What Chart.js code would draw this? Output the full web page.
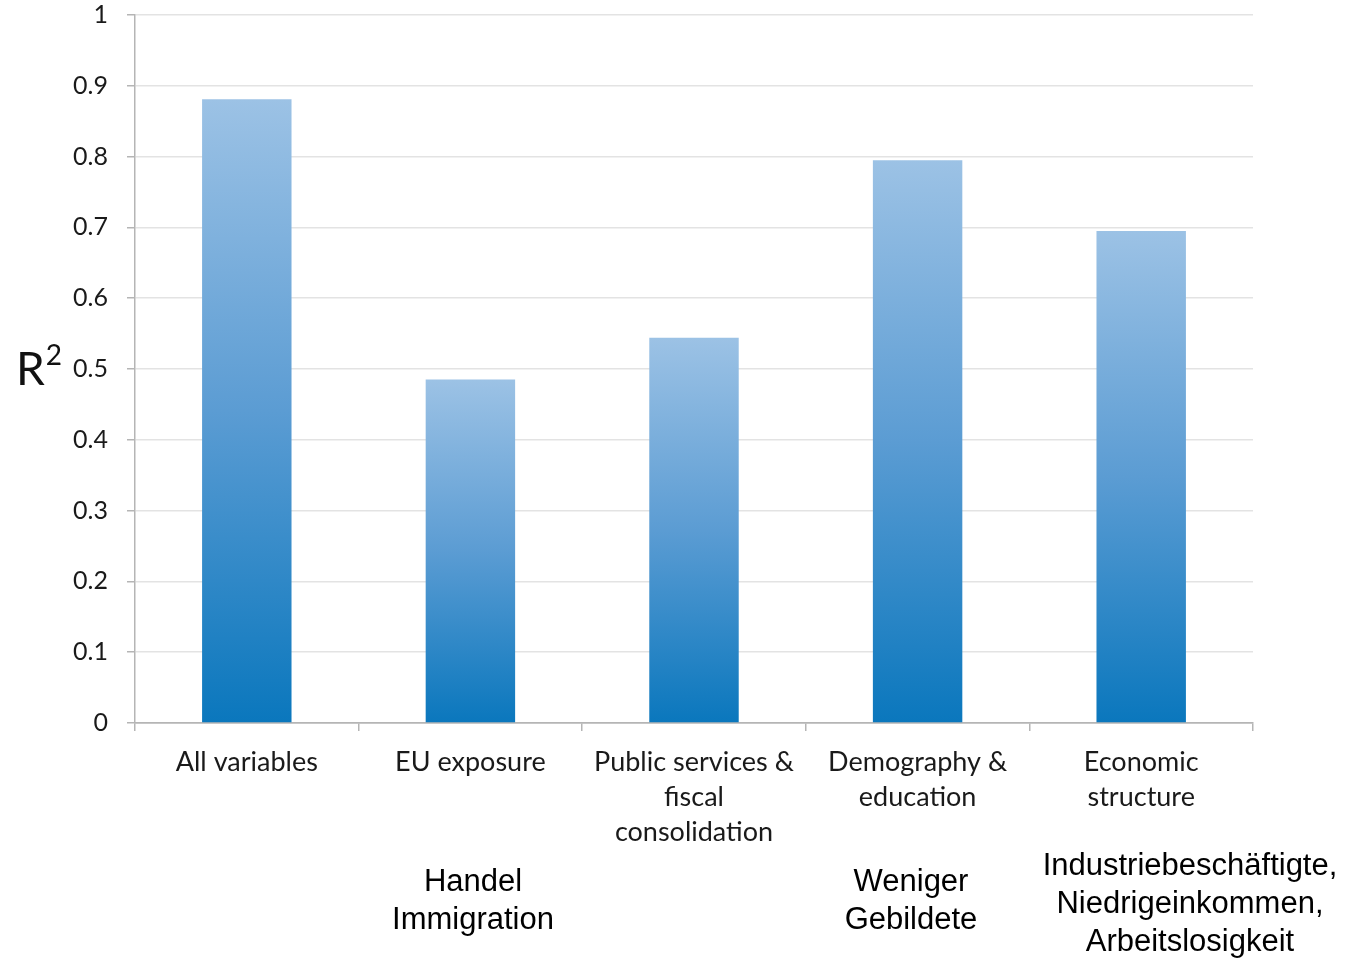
<!DOCTYPE html>
<html>
<head>
<meta charset="utf-8">
<script src="https://cdn.jsdelivr.net/npm/chart.js@4"></script>
<style>
  html, body { margin: 0; padding: 0; background: #fff; }
  #wrap { position: relative; width: 1347px; height: 960px; }
  #r2 { position: absolute; left: 16px; top: 340px; font: 46px Lato, sans-serif; color: #111; }
  #r2 sup { font-size: 28px; position: relative; top: -4px; margin-left: 1px; }
  .note { position: absolute; font: 31px "Liberation Sans", Arial, sans-serif; color: #000;
          text-align: center; line-height: 38px; transform: translateX(-50%); white-space: nowrap; }
</style>
</head>
<body>
<div id="wrap">
  <canvas id="r2-chart" width="1347" height="960"></canvas>
  <div id="r2">R<sup>2</sup></div>
  <div class="note" style="left:473px; top:862px;">Handel<br>Immigration</div>
  <div class="note" style="left:911px; top:862px;">Weniger<br>Gebildete</div>
  <div class="note" style="left:1190px; top:846px;">Industriebeschäftigte,<br>Niedrigeinkommen,<br>Arbeitslosigkeit</div>
</div>
<script>
// Erklärungskraft (R²) der einzelnen Variablengruppen
const categories = [
  ['All variables'],
  ['EU exposure'],
  ['Public services &', 'fiscal', 'consolidation'],
  ['Demography &', 'education'],
  ['Economic', 'structure']
];
const r2Values = [0.881, 0.485, 0.544, 0.795, 0.695];
const yTicks = [0, 0.1, 0.2, 0.3, 0.4, 0.5, 0.6, 0.7, 0.8, 0.9, 1];

// Verlauf pro Balken: oben hell, unten kräftiges Blau
function barGradient(context) {
  const chart = context.chart;
  const y = chart.scales.y;
  if (!y || typeof context.raw !== 'number') return '#4a93cf';
  const top = y.getPixelForValue(context.raw);
  const base = y.getPixelForValue(0);
  if (!isFinite(top) || !isFinite(base) || top === base) return '#4a93cf';
  const g = chart.ctx.createLinearGradient(0, top, 0, base);
  g.addColorStop(0, '#9cc2e5');
  g.addColorStop(0.5, '#5b9cd3');
  g.addColorStop(1, '#0a77bd');
  return g;
}

const chartElement = document.getElementById('r2-chart');

new Chart(chartElement, {
  type: 'bar',
  data: {
    labels: categories,
    datasets: [{
      data: r2Values,
      backgroundColor: barGradient,
      borderWidth: 0,
      categoryPercentage: 1,
      barPercentage: 0.4
    }]
  },
  options: {
    responsive: false,
    animation: false,
    layout: { padding: { top: 15, right: 94, left: 0, bottom: 0 } },
    plugins: {
      legend: { display: false },
      tooltip: { enabled: false }
    },
    scales: {
      x: {
        afterFit: (scale) => {
          scale.height = 237;
          scale.paddingLeft = 0;
          scale.paddingRight = 0;
        },
        grid: {
          drawOnChartArea: false,
          drawTicks: true,
          tickLength: 8,
          color: '#b5b5b5',
          lineWidth: 1.5
        },
        border: { color: '#b5b5b5', width: 1.5 },
        ticks: {
          color: '#1a1a1a',
          padding: 14,
          font: { family: 'Lato', size: 27, lineHeight: 1.3 },
          maxRotation: 0,
          autoSkip: false
        }
      },
      y: {
        min: 0,
        max: 1,
        afterFit: (scale) => {
          scale.width = 135;
          scale.paddingTop = 0;
          scale.paddingBottom = 0;
        },
        afterBuildTicks: (scale) => { scale.ticks = yTicks.map(v => ({ value: v })); },
        grid: {
          color: (ctx) => ctx.tick && ctx.tick.value === 0 ? '#b5b5b5' : '#e3e3e3',
          lineWidth: 1.5,
          tickLength: 8,
          tickColor: '#b5b5b5'
        },
        border: { color: '#b5b5b5', width: 1.5 },
        ticks: {
          color: '#1a1a1a',
          padding: 19,
          font: { family: 'Lato', size: 25 },
          callback: (v) => String(v)
        }
      }
    }
  }
});
</script>
</body>
</html>
